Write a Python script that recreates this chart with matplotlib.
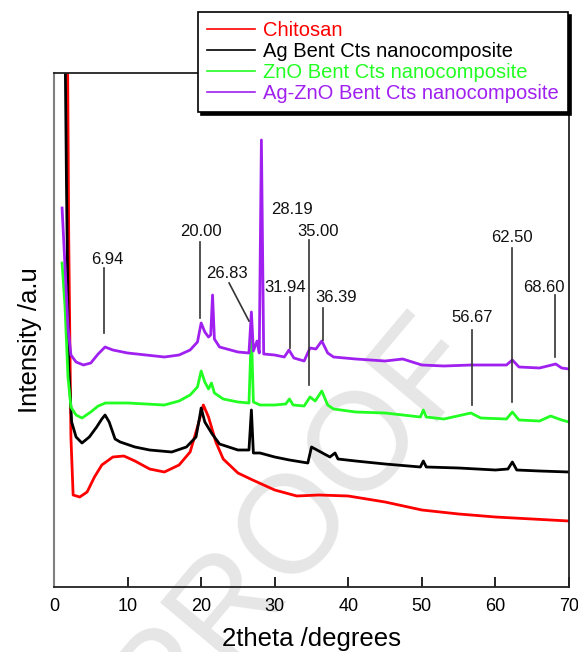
import matplotlib
matplotlib.use("Agg")
import matplotlib.pyplot as plt

plt.rcParams["font.family"] = ["Liberation Sans", "DejaVu Sans"]

# XRD patterns (stacked, arbitrary intensity units)
x_cts = [1.7, 2.0, 2.3, 2.6, 3.5, 4.5, 5.5, 6.5, 8, 9.5, 11, 13, 15, 17, 18.5, 19.5,
         20.3, 21, 22, 23, 25, 27, 30, 33, 36, 40, 45, 50, 55, 60, 65, 70]
y_cts = [700, 350, 150, 92, 90, 95, 110, 122, 130, 131, 126, 118, 115, 122, 135, 160,
         182, 170, 145, 128, 114, 107, 97, 91, 92, 91, 85, 77, 73, 70, 68, 66]

x_ag = [1.3, 1.7, 2.0, 2.4, 3.0, 3.8, 4.8, 5.8, 6.5, 6.94, 7.5, 8.3, 9, 11, 13, 16, 18,
        19.3, 19.8, 20.0, 20.5, 21.5, 22.5, 25, 26.5, 26.83, 27.1, 28, 30, 32, 34.5,
        35.0, 36, 37.5, 38.2, 38.6, 41, 45, 49.8, 50.2, 50.6, 55, 60, 61.7, 62.3, 62.9,
        66, 70]
y_ag = [700, 400, 220, 165, 150, 144, 150, 160, 168, 172, 165, 148, 145, 140, 137, 135,
        140, 150, 170, 179, 165, 153, 143, 137, 137, 177, 134, 134, 130, 127, 124,
        140, 136, 130, 134, 128, 126, 123, 120, 126, 120, 119, 117, 118, 125, 117,
        116, 115]

x_zno = [1.1, 1.5, 1.9, 2.3, 3.0, 3.8, 5, 6, 7, 8.5, 10, 12.5, 15, 17, 18.5, 19.5,
         20.0, 20.5, 21.0, 21.4, 21.8, 23, 25, 26.5, 26.83, 27.1, 28, 30, 31.5, 32,
         32.5, 34, 34.8, 35.5, 36.4, 37.2, 38, 41, 45, 49.8, 50.2, 50.6, 53, 56.67,
         58, 61.5, 62.3, 63.2, 66, 67.5, 69, 70]
y_zno = [324, 280, 210, 180, 172, 169, 175, 181, 184, 184, 184, 183, 182, 186, 192, 200,
         216, 205, 198, 204, 194, 188, 185, 184, 255, 185, 182, 182, 183, 188,
         182, 181, 190, 186, 196, 182, 178, 175, 174, 170, 177, 170, 168, 174,
         169, 168, 175, 167, 166, 171, 167, 165]

x_agzno = [1.1, 1.5, 1.9, 2.3, 3.0, 4.0, 5.0, 6.0, 6.94, 8, 10, 12.5, 15, 17, 18.5,
           19.5, 20.0, 20.5, 21.0, 21.3, 21.55, 21.8, 22.5, 25, 26.5, 26.83, 27.1,
           27.6, 27.9, 28.19, 28.5, 30, 31.3, 31.94, 32.6, 34, 34.8, 35.6, 36.4, 37.2,
           38, 41, 45, 47.4, 50, 53, 56.67, 60, 61.5, 62.3, 63.2, 66, 68.2, 69, 70]
y_agzno = [379, 320, 260, 232, 225, 222, 224, 233, 240, 237, 234, 232, 230, 232, 237,
           245, 264, 255, 250, 252, 292, 248, 240, 235, 234, 275, 236,
           246, 234, 447, 233, 232, 230, 237, 229, 226, 239, 238, 246, 234,
           230, 228, 226, 228, 222, 221, 222, 222, 222, 227, 220, 219, 223, 219, 218]

# peak labels: text, text position, marker line (x, y0, y1)
peak_text = ["6.94", "20.00", "26.83", "28.19", "31.94", "35.00", "36.39",
             "56.67", "62.50", "68.60"]
text_x = [7.2, 20.0, 23.5, 32.3, 31.4, 35.9, 38.3, 56.8, 62.3, 66.6]
text_y = [327, 355, 314, 378, 299, 355, 289, 270, 349, 299]
mark_x0 = [6.8, 19.85, 23.8, None, 32.08, 34.66, 36.56, 56.82, 62.25, 68.1]
mark_x1 = [6.8, 19.85, 26.5, None, 32.08, 34.66, 36.56, 56.82, 62.25, 68.1]
mark_y0 = [319, 345, 304, None, 290, 347, 279, 257, 339, 292]
mark_y1 = [254, 269, 266, None, 239, 202, 247, 182, 185, 230]

fig = plt.figure(figsize=(5.78, 6.52), dpi=100)
ax = fig.add_axes([54 / 578, 1 - 587 / 652, 515 / 578, 514 / 652])
ax.patch.set_alpha(0)

# faint watermark behind the curves
ax.text(295 / 578, 1 - 522 / 652, "PROOF", transform=fig.transFigure,
        fontsize=100, color="#e6e6e6", rotation=50, rotation_mode="anchor",
        ha="center", va="center", zorder=0, clip_on=False)

lw = 2.0
ax.plot(x_cts, y_cts, color="#ff0000", lw=lw, label="Chitosan", zorder=2)
ax.plot(x_ag, y_ag, color="black", lw=lw, label="Ag Bent Cts nanocomposite", zorder=2)
ax.plot(x_zno, y_zno, color="#22ff22", lw=lw, label="ZnO Bent Cts nanocomposite", zorder=2)
ax.plot(x_agzno, y_agzno, color="#a020f0", lw=lw, label="Ag-ZnO Bent Cts nanocomposite", zorder=2)

for t, tx, ty, a, b, c, d in zip(peak_text, text_x, text_y, mark_x0, mark_x1, mark_y0, mark_y1):
    if a is not None:
        ax.plot([a, b], [c, d], color="#333333", lw=1.2, zorder=3)
    ax.text(tx, ty, t, ha="center", va="center", fontsize=12, color="#111111", zorder=4)

ax.set_xlim(0, 70)
ax.set_ylim(0, 514)
ax.set_xticks(range(0, 71, 10))
ax.set_yticks([])
ax.tick_params(axis="x", direction="in", length=7, width=1.2, labelsize=13, pad=8)
for side in ["bottom", "right", "top"]:
    ax.spines[side].set_color("#222222")
    ax.spines[side].set_linewidth(1.3)
ax.spines["left"].set_color("#808080")
ax.spines["left"].set_linewidth(1.5)

ax.set_xlabel("2theta /degrees", fontsize=18.5)
ax.xaxis.set_label_coords(0.5, -40 / 514)
ax.set_ylabel("Intensity /a.u", fontsize=18.5)
ax.yaxis.set_label_coords(-0.023, 0.48)

leg = ax.legend(loc="upper left", bbox_to_anchor=(198 / 578, 1 - 12 / 652),
                bbox_transform=fig.transFigure, fontsize=14.5, frameon=True,
                fancybox=False, shadow={"color": "black", "alpha": 1},
                handlelength=2.4, handletextpad=0.4, labelspacing=0.1,
                borderpad=0.45, borderaxespad=0)
leg.get_frame().set_edgecolor("black")
leg.get_frame().set_linewidth(1.2)
for txt, line in zip(leg.get_texts(), leg.get_lines()):
    txt.set_color(line.get_color())
    line.set_linewidth(1.2)

fig.savefig("out.png", dpi=100)
